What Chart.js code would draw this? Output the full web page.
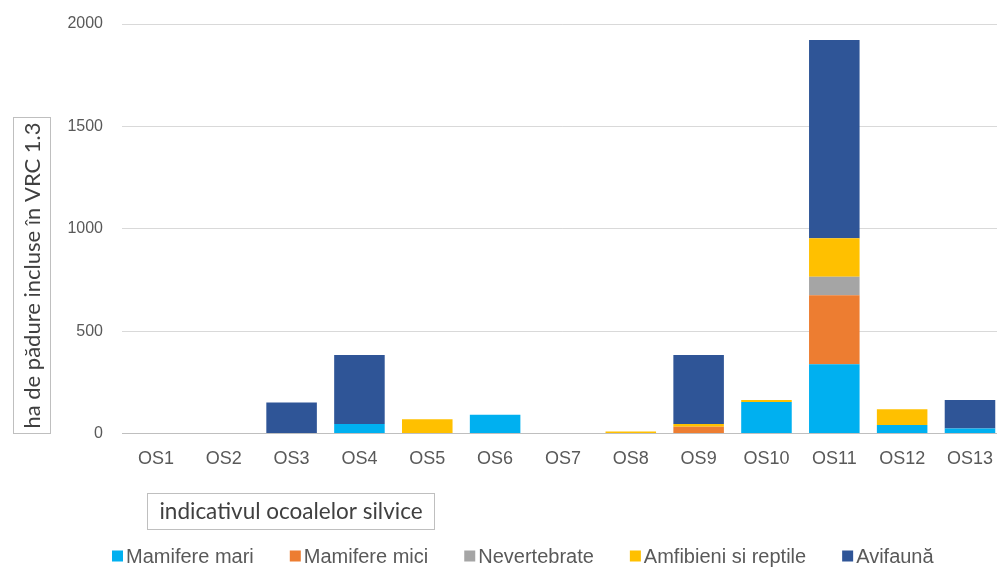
<!DOCTYPE html>
<html>
<head>
<meta charset="utf-8">
<script src="https://cdn.jsdelivr.net/npm/chart.js@4/dist/chart.umd.min.js"></script>
<style>
  html, body { margin: 0; padding: 0; background: #ffffff; overflow: hidden; }
  #wrap { position: relative; width: 1008px; height: 567px; }
</style>
</head>
<body>
<div id="wrap"><canvas id="chart"></canvas></div>
<script>
// Forest district codes
const categories = ['OS1', 'OS2', 'OS3', 'OS4', 'OS5', 'OS6', 'OS7', 'OS8', 'OS9', 'OS10', 'OS11', 'OS12', 'OS13'];

// Forest area (ha) included in VRC 1.3, by fauna group
const mamifereMari = [0, 0, 0, 46, 0, 92, 0, 0, 0, 154, 338, 41, 25];
const mamifereMici = [0, 0, 0, 0, 0, 0, 0, 0, 33, 0, 337, 0, 0];
const nevertebrate = [0, 0, 0, 0, 0, 0, 0, 0, 0, 0, 91, 0, 0];
const amfibieniReptile = [0, 0, 0, 0, 69, 0, 0, 10, 13, 10, 187, 77, 0];
const avifauna = [0, 0, 152, 337, 0, 0, 0, 0, 337, 0, 969, 0, 139];

const seriesNames = ['Mamifere mari', 'Mamifere mici', 'Nevertebrate', 'Amfibieni si reptile', 'Avifaună'];
const yTicks = [0, 500, 1000, 1500, 2000];

const yTitle = 'ha de pădure incluse în VRC 1.3';
const xTitle = 'indicativul ocoalelor silvice';

const colors = ['#00B0F0', '#ED7D31', '#A5A5A5', '#FFC000', '#2F5597'];
const series = [mamifereMari, mamifereMici, nevertebrate, amfibieniReptile, avifauna];

const TEXT = '#595959';
const SANS = '"Liberation Sans", Arial, sans-serif';
const TITLE_FONT = 'Lato, "Open Sans", sans-serif';

// Boxed axis titles and a compact legend row
const decorations = {
  id: 'decorations',
  afterDraw(chart) {
    const ctx = chart.ctx;
    ctx.save();

    // y-axis title in a framed box
    ctx.strokeStyle = '#bfbfbf';
    ctx.lineWidth = 1;
    ctx.strokeRect(13.5, 117.5, 37, 316);
    ctx.fillStyle = '#404040';
    ctx.font = '22px ' + TITLE_FONT;
    ctx.textAlign = 'center';
    ctx.textBaseline = 'middle';
    ctx.save();
    ctx.translate(32, 275.5);
    ctx.rotate(-Math.PI / 2);
    ctx.fillText(yTitle, 0, 1);
    ctx.restore();

    // x-axis title in a framed box
    ctx.font = '22.5px ' + TITLE_FONT;
    ctx.strokeRect(147.5, 493.5, 287, 36);
    ctx.fillText(xTitle, 291, 512);

    // legend
    ctx.font = '20px ' + SANS;
    ctx.textAlign = 'left';
    const box = 11, gapBox = 3, gapItem = 36;
    const items = chart.data.datasets.map(d => ({ label: d.label, color: d.backgroundColor }));
    const widths = items.map(it => box + gapBox + ctx.measureText(it.label).width);
    let x = 112;
    const cy = 556;
    items.forEach((it, i) => {
      ctx.fillStyle = it.color;
      ctx.fillRect(x, cy - box / 2, box, box);
      ctx.fillStyle = TEXT;
      ctx.fillText(it.label, x + box + gapBox, cy + 1);
      x += widths[i] + gapItem;
    });

    ctx.restore();
  }
};

new Chart(document.getElementById('chart'), {
  type: 'bar',
  data: {
    labels: categories,
    datasets: seriesNames.map((name, i) => ({
      label: name,
      data: series[i],
      backgroundColor: colors[i],
      borderWidth: 0,
      barPercentage: 0.745,
      categoryPercentage: 1.0
    }))
  },
  options: {
    responsive: true,
    maintainAspectRatio: false,
    animation: false,
    layout: { padding: { top: 24, left: 0, right: 0, bottom: 0 } },
    plugins: {
      legend: { display: false },
      tooltip: { enabled: false }
    },
    scales: {
      x: {
        stacked: true,
        grid: { display: false, drawTicks: false },
        border: { display: true, color: '#bfbfbf', width: 1 },
        ticks: { color: TEXT, font: { family: SANS, size: 18 }, padding: 15, maxRotation: 0, autoSkip: false },
        afterFit(scale) { scale.height = 133.5; }
      },
      y: {
        stacked: true,
        min: 0,
        max: 2000,
        afterBuildTicks(scale) { scale.ticks = yTicks.map(v => ({ value: v })); },
        grid: { color: '#d9d9d9', drawTicks: true, tickLength: 15, tickColor: 'rgba(0,0,0,0)', lineWidth: 1 },
        border: { display: false },
        ticks: {
          color: TEXT,
          font: { family: SANS, size: 16 },
          padding: 4,
          callback: (v) => String(v)
        },
        afterFit(scale) { scale.width = 122; }
      }
    }
  },
  plugins: [decorations]
});
</script>
</body>
</html>
